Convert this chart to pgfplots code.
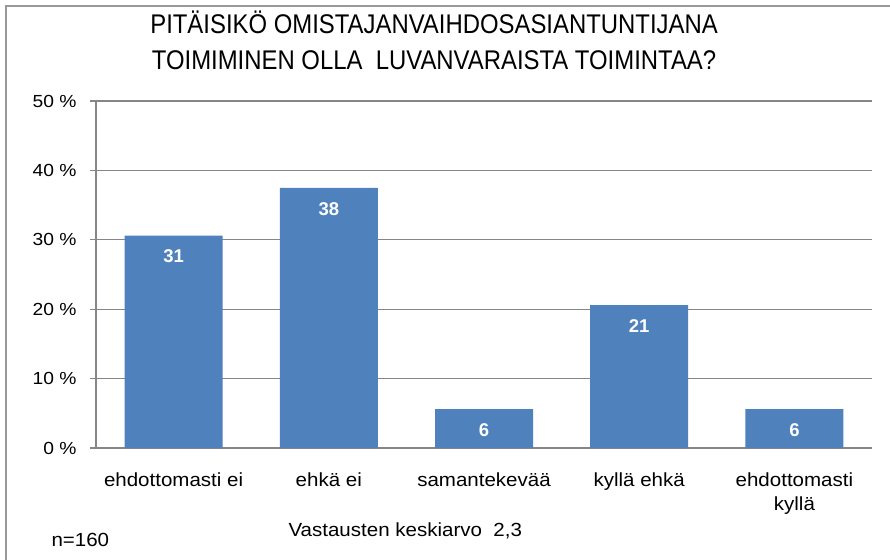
\documentclass[border=0pt]{standalone}
\usepackage{pgfplots}
\pgfplotsset{compat=1.18}
\usepackage{fontspec}
\setmainfont{Liberation Sans}
\newfontfamily\narrowfont{Liberation Sans}[FakeStretch=0.885]
\newfontfamily\widefont{Liberation Sans}[FakeStretch=1.08]
\newfontfamily\tickfont{Liberation Sans}[FakeStretch=1.1]
\definecolor{barblue}{HTML}{4F81BD}
\definecolor{gridgray}{HTML}{868686}
\definecolor{framegray}{HTML}{999999}
\begin{document}
\begin{tikzpicture}
\begin{axis}[
    scale only axis,
    width=776pt, height=347pt,
    xmin=-0.5, xmax=4.5,
    ymin=0, ymax=50,
    axis x line*=bottom,
    axis y line*=left,
    axis line style={gridgray, line width=1.2pt},
    ytick={0,10,20,30,40,50},
    yticklabels={0 \%,10 \%,20 \%,30 \%,40 \%,50 \%},
    ymajorgrids,
    major grid style={gridgray, line width=1.2pt},
    tick align=outside,
    major tick length=6pt,
    tick style={gridgray, line width=1.2pt},
    xtick={0,1,2,3,4},
    xticklabels={ehdottomasti ei, ehkä ei, samantekevää, kyllä ehkä, ehdottomasti\\kyllä},
    x tick style={draw=none},
    minor xtick={-0.5,0.5,1.5,2.5,3.5,4.5},
    minor tick length=6pt,
    minor x tick style={gridgray, line width=1.2pt},
    xticklabel style={font=\widefont\fontsize{19}{24}\selectfont, align=center, anchor=north, yshift=-15pt},
    yticklabel style={font=\tickfont\fontsize{17.5}{22}\selectfont, xshift=-10pt},
    ybar,
    bar width=98pt,
    /pgf/number format/assume math mode=true,
    nodes near coords={\pgfmathprintnumber[fixed, precision=0]{\pgfplotspointmeta}},
    nodes near coords style={white, font=\bfseries\fontsize{18.5}{22}\selectfont, anchor=center, yshift=-21pt},
]
\addplot[fill=barblue, draw=none] coordinates {(0,30.6) (1,37.5) (2,5.6) (3,20.6) (4,5.6)};
\coordinate (SW) at (rel axis cs:0,0);
\end{axis}
\path (SW) ++(-96pt,-111pt) coordinate (O);
\begin{scope}[shift={(O)}, x=1pt, y=1pt]
\path[use as bounding box] (0,0) rectangle (890,559);
\draw[framegray, line width=2.2pt, line join=miter] (6,-5) -- (6,553) -- (895,553);
\node[align=center, font=\narrowfont\fontsize{27}{36}\selectfont] at (434,519)
  {PITÄISIKÖ OMISTAJANVAIHDOSASIANTUNTIJANA\\TOIMIMINEN OLLA\ \ LUVANVARAISTA TOIMINTAA?};
\node[anchor=west, font=\widefont\fontsize{19}{22}\selectfont] at (48,19) {n=160};
\node[anchor=west, font=\widefont\fontsize{19}{22}\selectfont] at (285,28) {Vastausten keskiarvo\ \ 2,3};
\end{scope}
\end{tikzpicture}
\end{document}
